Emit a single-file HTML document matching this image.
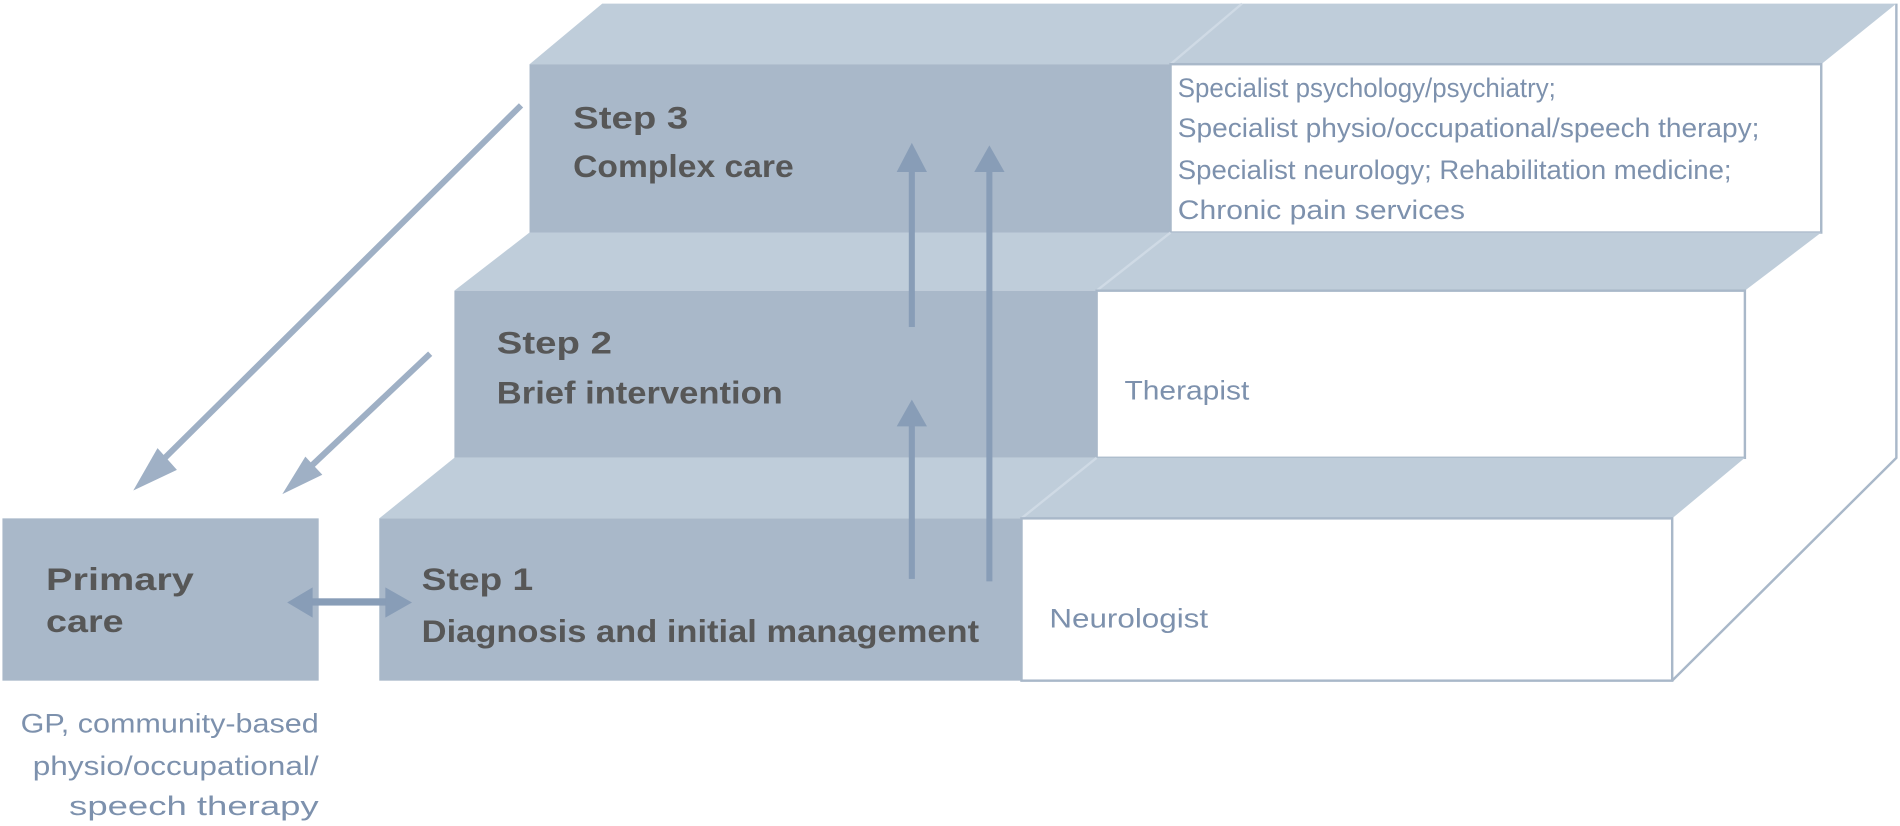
<!DOCTYPE html>
<html><head><meta charset="utf-8"><style>
html,body{margin:0;padding:0;background:#fff;}
svg{display:block;}
.t{font-family:"Liberation Sans",sans-serif;font-weight:bold;fill:#575757;font-size:26px;}
.b{font-family:"Liberation Sans",sans-serif;fill:#7d91ad;font-size:22px;}
</style></head><body>
<svg width="1900" height="826" viewBox="0 0 1568 682" preserveAspectRatio="none" xmlns="http://www.w3.org/2000/svg">
<g stroke="#a9b8c9" stroke-width="2">
<polyline points="1565,3 1565,378 1380,562" fill="none"/>
<polygon points="437,53 497,3 1565,3 1503,53" fill="#bfcdda" stroke="none"/>
<line x1="966" y1="53" x2="1025" y2="3" stroke="#cfdae5"/>
<rect x="437" y="53" width="529" height="139" fill="#a9b8c9" stroke="none"/>
<rect x="966" y="53" width="537" height="139" fill="#fff"/>
<polygon points="375,240 437,192 1503,192 1440,240" fill="#bfcdda" stroke="none"/>
<line x1="905" y1="240" x2="966" y2="192" stroke="#cfdae5"/>
<rect x="375" y="240" width="530" height="138" fill="#a9b8c9" stroke="none"/>
<rect x="905" y="240" width="535" height="138" fill="#fff"/>
<polygon points="313,428 375,378 1440,378 1380,428" fill="#bfcdda" stroke="none"/>
<line x1="843" y1="428" x2="905" y2="378" stroke="#cfdae5"/>
<rect x="313" y="428" width="530" height="134" fill="#a9b8c9" stroke="none"/>
<rect x="843" y="428" width="537" height="134" fill="#fff"/>
<rect x="2" y="428" width="261" height="134" fill="#a9b8c9" stroke="none"/>
</g>
<g fill="#889db7">
<rect x="750" y="140" width="5" height="130"/>
<polygon points="740,142 765,142 752.5,118"/>
<rect x="750" y="350" width="5" height="128"/>
<polygon points="740,352 765,352 752.5,330"/>
<rect x="814" y="140" width="5" height="340"/>
<polygon points="804,142 829,142 816.5,120"/>
<rect x="255" y="494" width="66" height="6"/>
<polygon points="258,485 258,510 237,497.5"/>
<polygon points="318,485 318,510 340,497.5"/>
</g>
<g stroke="#9fb0c5" stroke-width="5" fill="#9fb0c5">
<line x1="430" y1="87" x2="122" y2="392"/>
<polygon points="110,405 130,370 146,388" stroke="none"/>
<line x1="355" y1="292" x2="245" y2="396"/>
<polygon points="233,408 252,377 266,392" stroke="none"/>
</g>
<text class="t" x="473" y="106" textLength="95" lengthAdjust="spacingAndGlyphs">Step 3</text>
<text class="t" x="473" y="146" textLength="182" lengthAdjust="spacingAndGlyphs">Complex care</text>
<text class="t" x="410" y="292" textLength="95" lengthAdjust="spacingAndGlyphs">Step 2</text>
<text class="t" x="410" y="333" textLength="236" lengthAdjust="spacingAndGlyphs">Brief intervention</text>
<text class="t" x="348" y="487" textLength="92" lengthAdjust="spacingAndGlyphs">Step 1</text>
<text class="t" x="348" y="530" textLength="460" lengthAdjust="spacingAndGlyphs">Diagnosis and initial management</text>
<text class="t" x="38" y="487" textLength="122" lengthAdjust="spacingAndGlyphs">Primary</text>
<text class="t" x="38" y="522" textLength="64" lengthAdjust="spacingAndGlyphs">care</text>
<text class="b" x="972" y="80" textLength="312" lengthAdjust="spacingAndGlyphs">Specialist psychology/psychiatry;</text>
<text class="b" x="972" y="113" textLength="480" lengthAdjust="spacingAndGlyphs">Specialist physio/occupational/speech therapy;</text>
<text class="b" x="972" y="148" textLength="457" lengthAdjust="spacingAndGlyphs">Specialist neurology; Rehabilitation medicine;</text>
<text class="b" x="972" y="181" textLength="237" lengthAdjust="spacingAndGlyphs">Chronic pain services</text>
<text class="b" x="928" y="330" textLength="103" lengthAdjust="spacingAndGlyphs">Therapist</text>
<text class="b" x="866" y="518" textLength="131" lengthAdjust="spacingAndGlyphs">Neurologist</text>
<text class="b" x="263" y="605" text-anchor="end" textLength="246" lengthAdjust="spacingAndGlyphs">GP, community-based</text>
<text class="b" x="263" y="640" text-anchor="end" textLength="236" lengthAdjust="spacingAndGlyphs">physio/occupational/</text>
<text class="b" x="263" y="673" text-anchor="end" textLength="206" lengthAdjust="spacingAndGlyphs">speech therapy</text>
</svg>
</body></html>
